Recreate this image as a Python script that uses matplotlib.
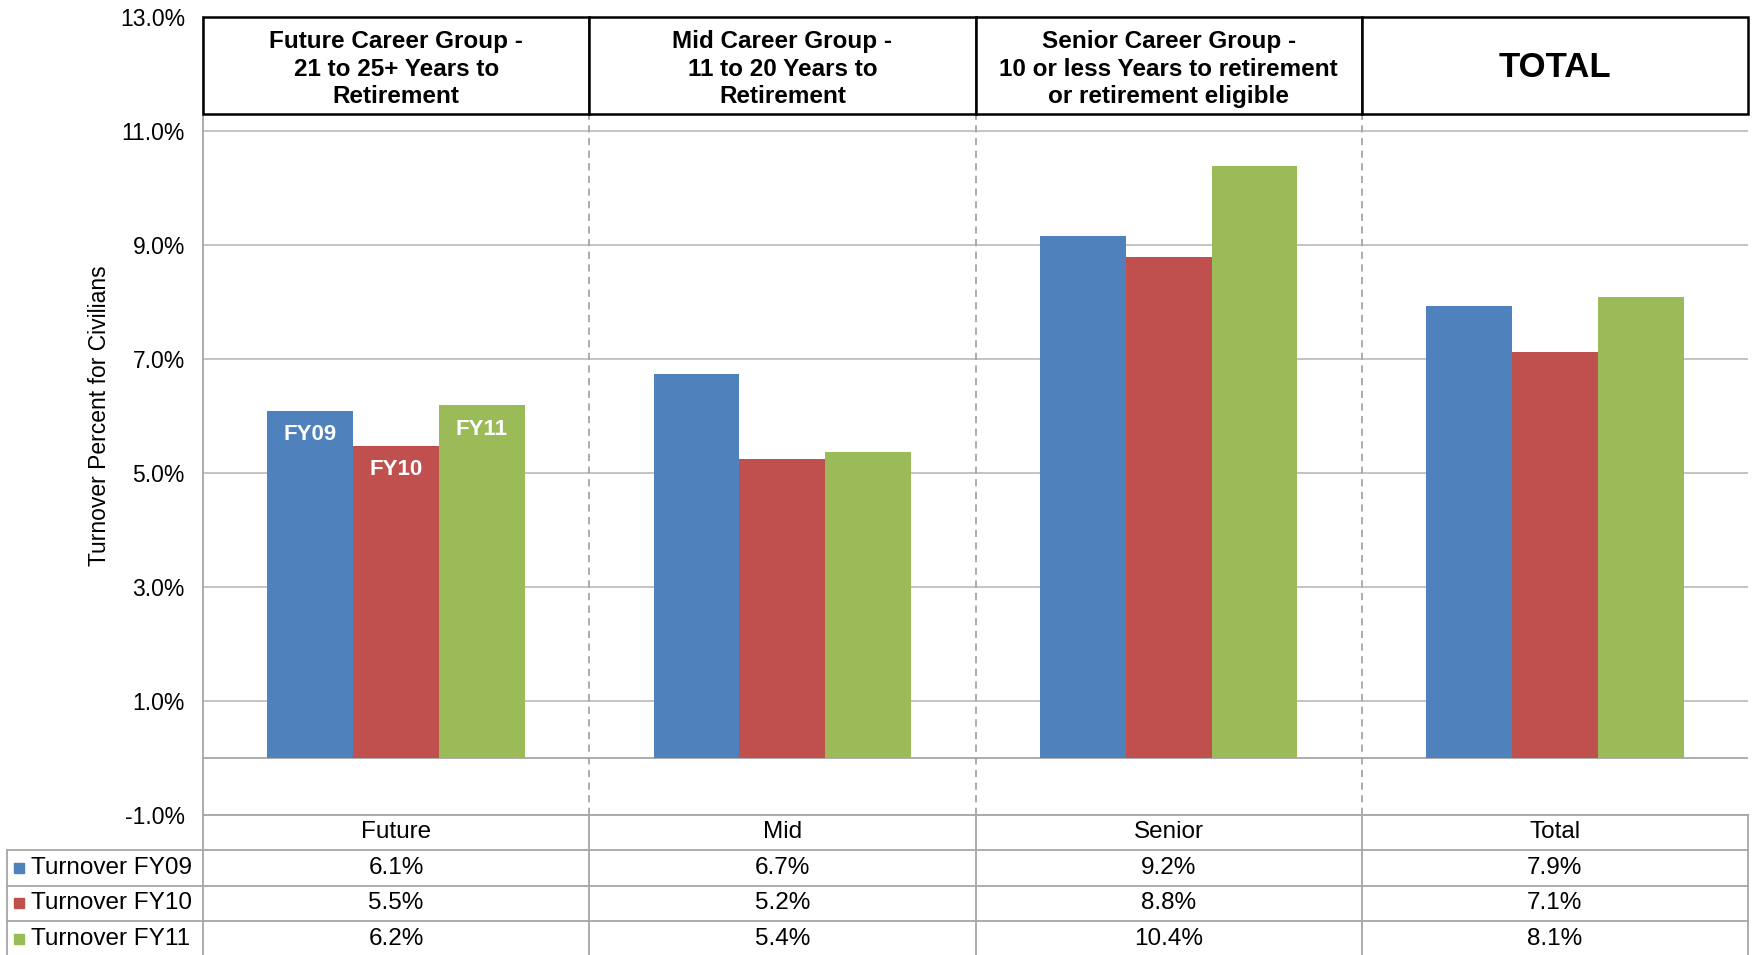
import numpy as np
import matplotlib.pyplot as plt
from matplotlib.patches import Rectangle

plt.rcParams['font.family'] = ['Liberation Sans', 'DejaVu Sans']

# data (percent)
groups = ['Future', 'Mid', 'Senior', 'Total']
headers = ['Future Career Group -\n21 to 25+ Years to\nRetirement',
           'Mid Career Group -\n11 to 20 Years to\nRetirement',
           'Senior Career Group -\n10 or less Years to retirement\nor retirement eligible',
           'TOTAL']
series = ['Turnover FY09', 'Turnover FY10', 'Turnover FY11']
short_names = ['FY09', 'FY10', 'FY11']
fy09 = [6.08, 6.73, 9.16, 7.92]
fy10 = [5.47, 5.24, 8.78, 7.12]
fy11 = [6.18, 5.37, 10.39, 8.08]
yticks = [-1, 1, 3, 5, 7, 9, 11, 13]

colors = ['#4F81BD', '#C0504D', '#9BBB59']
grid_c = '#BFBFBF'
line_c = '#A6A6A6'

W, H = 1752, 955
fig = plt.figure(figsize=(W / 100, H / 100), dpi=100)
ax = fig.add_axes([203 / W, 140.5 / H, 1545 / W, 797.5 / H])

x = np.arange(len(groups))
bw = 1 / 4.5
values = [fy09, fy10, fy11]
for i, (vals, c) in enumerate(zip(values, colors)):
    ax.bar(x + (i - 1) * bw, vals, width=bw, color=c, zorder=2)

# labels inside the first group's bars
for i, vals in enumerate(values):
    ax.annotate(short_names[i], (x[0] + (i - 1) * bw, vals[0]), xytext=(0, -17),
                textcoords='offset points', ha='center', va='center',
                color='white', fontsize=16, fontweight='bold', zorder=3)

ax.set_xlim(-0.5, len(groups) - 0.5)
ax.set_ylim(-1, 13)
ax.set_yticks(yticks)
ax.set_yticklabels([f'{t:.1f}%' for t in yticks])
ax.tick_params(axis='y', length=0, pad=13, labelsize=16.5)
ax.set_xticks([])
ax.yaxis.grid(True, color=grid_c, lw=1.3)
ax.set_axisbelow(True)
ax.axhline(0, color=line_c, lw=1.3, zorder=1)
for s in ['top', 'right', 'bottom']:
    ax.spines[s].set_visible(False)
ax.spines['left'].set_color(line_c)
ax.spines['left'].set_linewidth(1.3)
ax.set_ylabel('Turnover Percent for Civilians', fontsize=16.5, labelpad=6)

# header boxes on top
box_bottom = 11.29
for i, h in enumerate(headers):
    ax.add_patch(Rectangle((i - 0.5, box_bottom), 1, 13 - box_bottom, facecolor='white',
                           edgecolor='black', lw=1.8, zorder=4, clip_on=False))
    if h == 'TOTAL':
        ax.text(i, 12.12, h, ha='center', va='center', fontsize=25, fontweight='bold', zorder=5)
    else:
        ax.text(i, 12.08, h, ha='center', va='center', fontsize=17.5, fontweight='bold',
                linespacing=1.25, zorder=5)

# dashed separators between groups
ax.vlines(x[:-1] + 0.5, -1, box_bottom, colors=line_c, linestyles=(0, (4, 3)), lw=1.3, zorder=1)

# data table below the axis
trans = ax.get_xaxis_transform()
row_h = 35.5 / 797.5
left = -0.5 - (203 - 7) / 386.25
right = len(groups) - 0.5
nrows = len(series) + 1
bottom = -row_h * nrows
kw = dict(transform=trans, clip_on=False, color=line_c, lw=1.3)
ax.plot([-0.5, right], [0, 0], **kw)
for r in range(1, nrows):
    ax.plot([left, right], [-row_h * r, -row_h * r], **kw)
ax.plot([left, left], [-row_h, bottom], **kw)
for xv in list(x - 0.5) + [right]:
    ax.plot([xv, xv], [0, bottom], **kw)

for j, g in enumerate(groups):
    ax.text(j, -row_h * 0.5, g, transform=trans, ha='center', va='center', fontsize=17.5)
for i, (name, vals, c) in enumerate(zip(series, values, colors)):
    yc = -row_h * (i + 1.5)
    ax.plot([left + 0.031], [yc], marker='s', ms=7.5, color=c, transform=trans, clip_on=False)
    ax.text(left + 0.063, yc, name, transform=trans, ha='left', va='center', fontsize=17.5)
    for j, v in enumerate(vals):
        ax.text(j, yc, f'{v:.1f}%', transform=trans, ha='center', va='center', fontsize=17.5)

fig.savefig('out.png', dpi=100)
